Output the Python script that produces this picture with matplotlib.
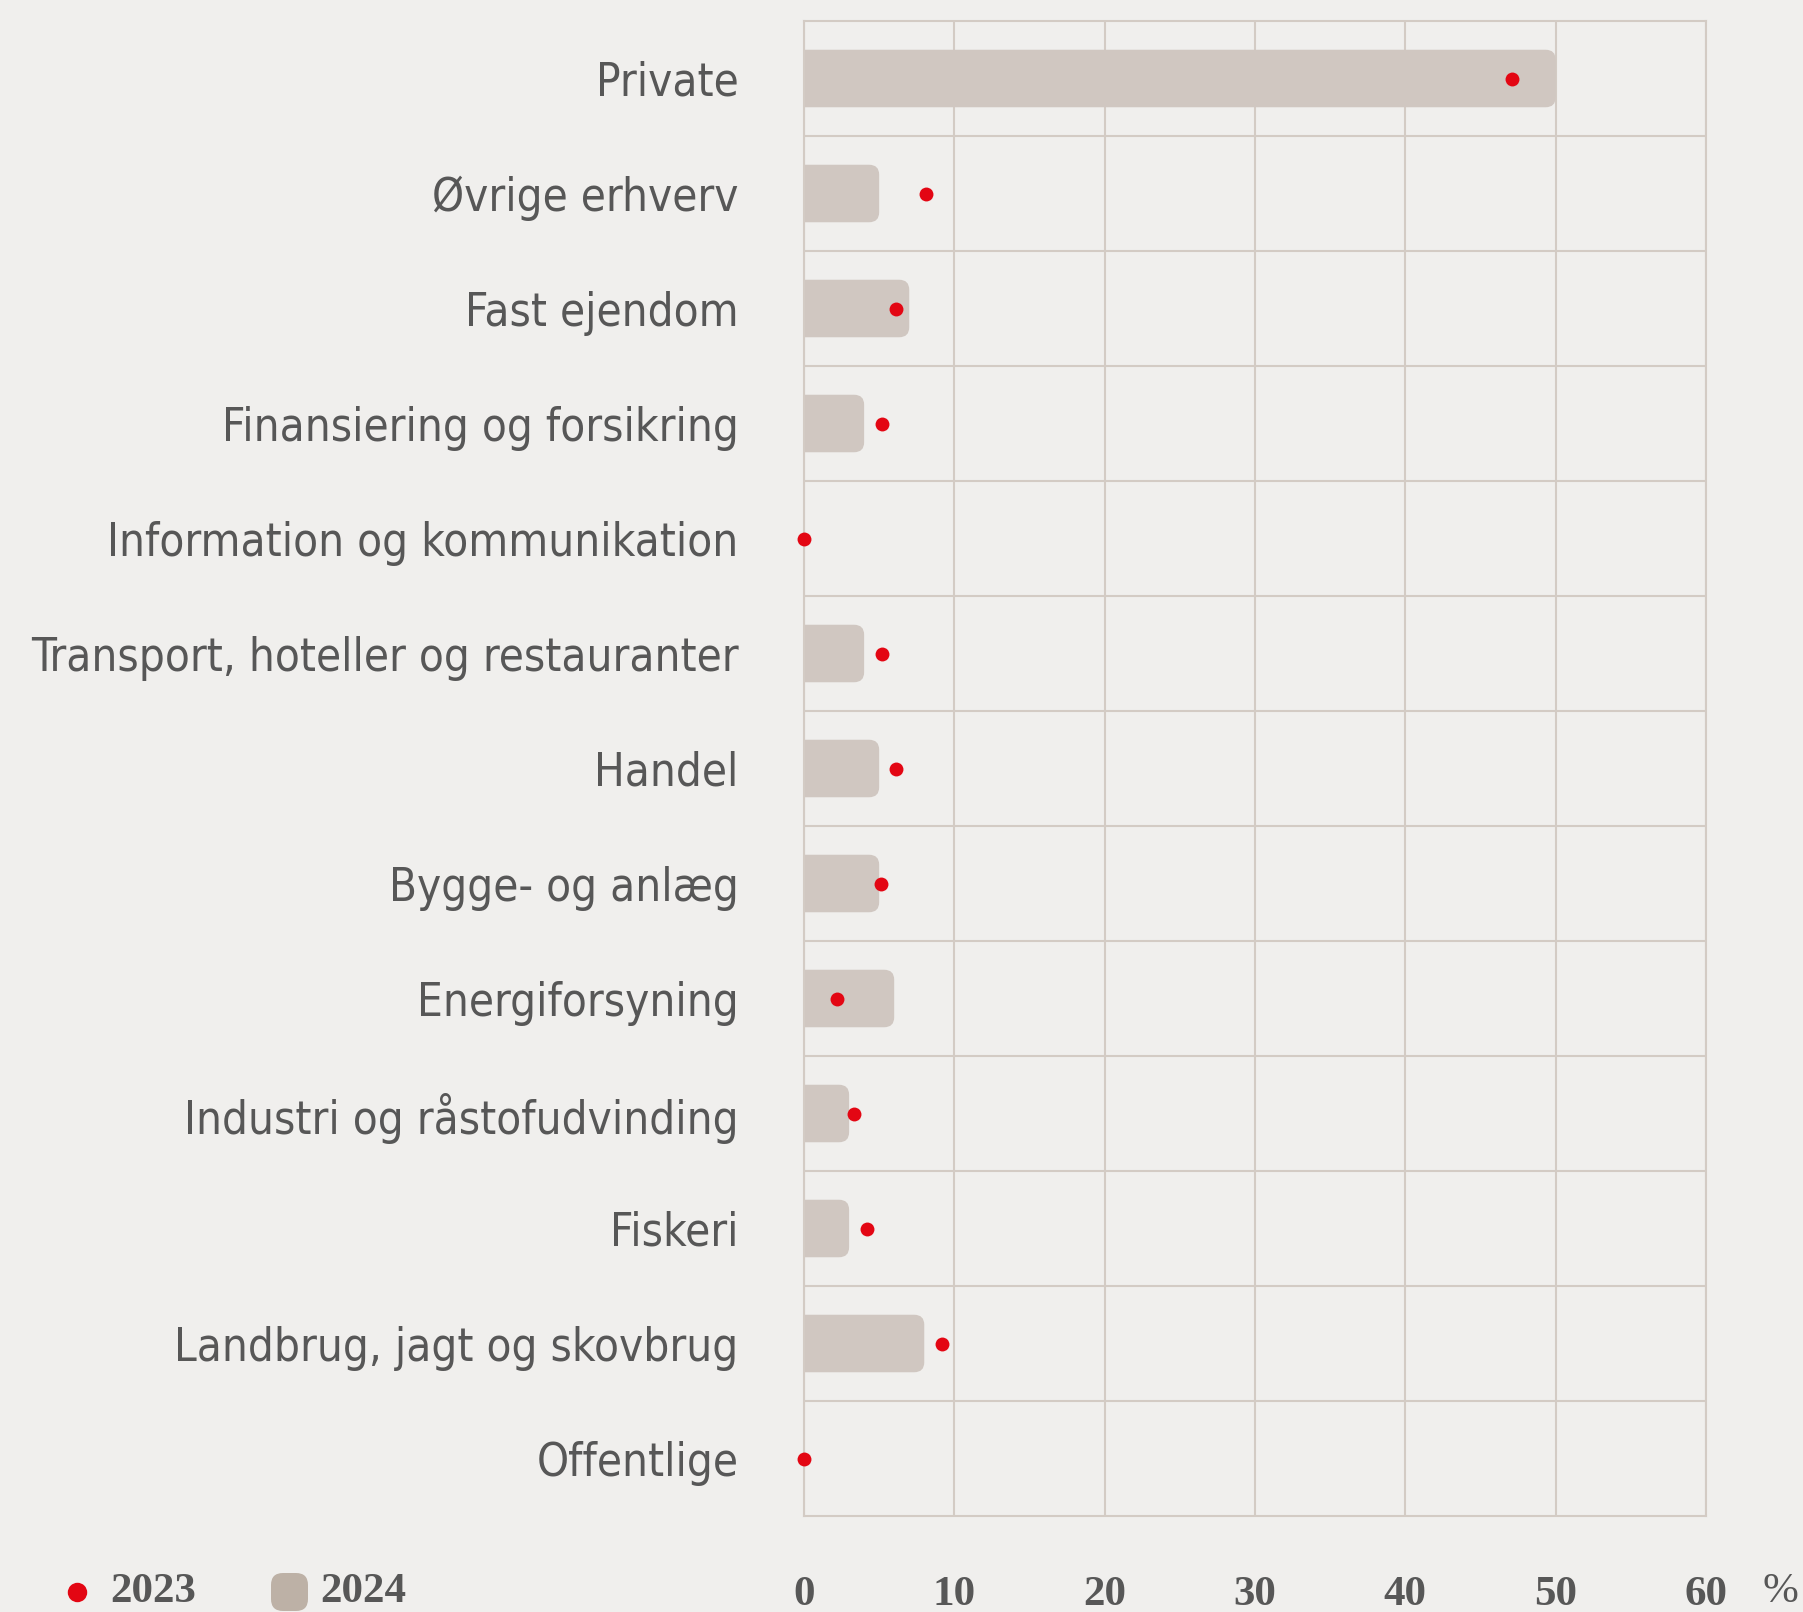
import numpy as np
import matplotlib
matplotlib.use("Agg")
import matplotlib.pyplot as plt
from matplotlib import font_manager as fm
from matplotlib.patches import FancyBboxPatch
from matplotlib.lines import Line2D

categories = ["Private", "Øvrige erhverv", "Fast ejendom", "Finansiering og forsikring",
              "Information og kommunikation", "Transport, hoteller og restauranter",
              "Handel", "Bygge- og anlæg", "Energiforsyning", "Industri og råstofudvinding",
              "Fiskeri", "Landbrug, jagt og skovbrug", "Offentlige"]
values_2024 = [50, 5, 7, 4, 0, 4, 5, 5, 6, 3, 3, 8, 0]
values_2023 = [47.1, 8.1, 6.1, 5.2, 0, 5.2, 6.1, 5.1, 2.2, 3.3, 4.2, 9.2, 0]
x_ticks = [0, 10, 20, 30, 40, 50, 60]

bg = "#f0efed"
grid_col = "#d3cbc4"
bar_col = "#d0c7c1"
legend_bar_col = "#bdb1a6"
red = "#e30613"
txt = "#575757"

serif = ["Liberation Serif", "DejaVu Serif"]

# look for a narrow sans for the category labels, else Roboto
label_font = fm.FontProperties(family="Roboto")
for f in fm.fontManager.ttflist:
    if f.name in ("Noto Sans", "Open Sans", "Roboto", "DejaVu Sans", "Liberation Sans Narrow",
                  "Roboto Condensed", "Open Sans Condensed") \
            and ("ondensed" in f.fname or "Narrow" in f.fname) \
            and f.weight in (400, "normal", "regular") and f.style == "normal" \
            and "Semi" not in f.fname and "Extra" not in f.fname:
        label_font = fm.FontProperties(fname=f.fname)
        break

fig = plt.figure(figsize=(18.03, 16.12), dpi=100, facecolor=bg)
ax = fig.add_axes([804 / 1803, 96 / 1612, 902 / 1803, 1495 / 1612])
ax.set_facecolor(bg)

y = np.arange(len(categories))
ax.set_xlim(0, 60)
ax.set_ylim(len(categories) - 0.5, -0.5)

# rounded bars: right end rounded, left end hidden behind the axis
ppx = 902 / 60
ppy = 1495 / len(categories)
r = 10 / ppx
for yi, v in zip(y, values_2024):
    if v <= 0:
        continue
    box = FancyBboxPatch((-1, yi - 0.25), v + 1, 0.5,
                         boxstyle=f"round,pad=0,rounding_size={r}",
                         mutation_aspect=ppx / ppy,
                         facecolor=bar_col, edgecolor="none", zorder=2)
    ax.add_patch(box)

ax.plot(values_2023, y, linestyle="none", marker="o", markersize=10,
        color=red, markeredgewidth=0, zorder=3, clip_on=False)

ax.set_axisbelow(True)
ax.set_xticks(x_ticks)
ax.set_xticklabels([str(t) for t in x_ticks])
ax.set_yticks(y)
ax.set_yticklabels(categories)
ax.set_yticks(y[:-1] + 0.5, minor=True)
ax.grid(which="major", axis="x", color=grid_col, linewidth=1.5)
ax.grid(which="minor", axis="y", color=grid_col, linewidth=1.5)
ax.tick_params(which="both", length=0)
ax.tick_params(axis="y", pad=47)
ax.tick_params(axis="x", pad=43)
for s in ax.spines.values():
    s.set_color(grid_col)
    s.set_linewidth(1.5)

for lab in ax.get_yticklabels():
    lab.set_fontproperties(label_font)
    lab.set_fontsize(36)
    lab.set_color(txt)
for lab in ax.get_xticklabels():
    lab.set_fontfamily(serif)
    lab.set_fontweight("bold")
    lab.set_fontsize(31)
    lab.set_color(txt)

# fit the longest category label to the width it has in the original (~708 px)
renderer = fig.canvas.get_renderer()
widest = max(lab.get_window_extent(renderer).width for lab in ax.get_yticklabels())
size = min(40, 36 * 708 / widest)
for lab in ax.get_yticklabels():
    lab.set_fontsize(size)

fy = 1 - 1592 / 1612
fig.text(1780 / 1803, fy, "%", family=serif, fontsize=31, color=txt,
         ha="center", va="center")

# legend
fig.add_artist(Line2D([77 / 1803], [fy], transform=fig.transFigure, marker="o",
                      markersize=14, color=red, markeredgewidth=0, linestyle="none"))
fig.text(110 / 1803, fy, "2023", family=serif, fontweight="bold", fontsize=31,
         color=txt, ha="left", va="center")
fig.add_artist(FancyBboxPatch((2.71, (1612 - 1611) / 100), 0.37, 0.38,
                              boxstyle="round,pad=0,rounding_size=0.12",
                              transform=fig.dpi_scale_trans,
                              facecolor=legend_bar_col, edgecolor="none"))
fig.text(320 / 1803, fy, "2024", family=serif, fontweight="bold", fontsize=31,
         color=txt, ha="left", va="center")

fig.savefig("out.png", dpi=100, facecolor=bg)
